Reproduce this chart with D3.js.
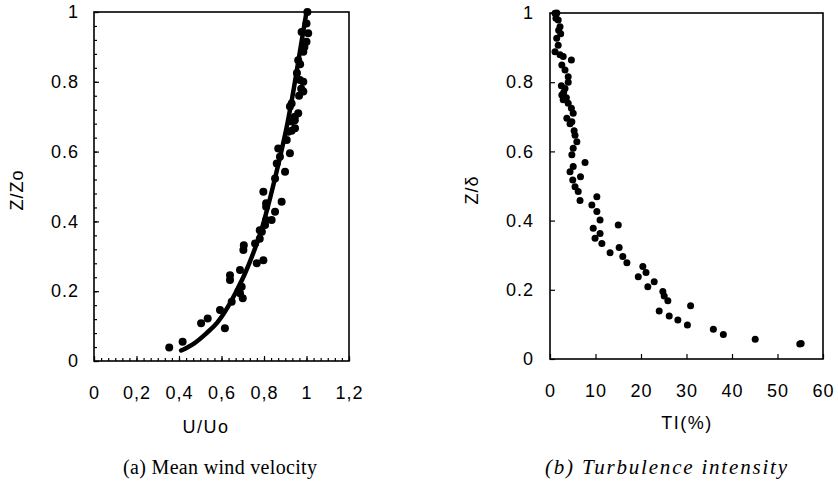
<!DOCTYPE html>
<html>
<head>
<meta charset="utf-8">
<script src="https://cdn.jsdelivr.net/npm/d3@7"></script>
<style>
  body { margin: 0; background: #fff; }
  svg { display: block; }
  .tick text { font-family: "Liberation Sans", Arial, sans-serif; font-size: 18px; fill: #000; letter-spacing: 1px; }
  .domain { display: none; }
  .tick line { stroke: #000; stroke-width: 1.2; }
</style>
</head>
<body>
<svg width="838" height="482"></svg>
<script>
// (a) mean wind velocity: measured points [U/Uo, Z/Zo]
var velU = [0.354, 0.417, 0.504, 0.535, 0.593, 0.616, 0.648, 0.687, 0.695, 0.64, 0.64, 0.687, 0.703, 0.705,
            0.766, 0.797, 0.758, 0.78, 0.79, 0.70, 0.68, 0.78, 0.81, 0.852, 0.836, 0.81, 0.883, 0.797,
            0.852, 0.899, 0.86, 0.875, 0.922, 0.867, 0.907, 0.914, 0.946, 0.93, 0.961, 0.922, 0.93,
            0.985, 0.969, 0.961, 0.985, 1.0, 0.977, 1.008, 1.0, 1.004, 0.97, 0.955, 0.985, 0.965, 0.99,
            0.945, 0.975, 0.93, 0.945, 0.81, 0.805];
var velZ = [0.039, 0.055, 0.108, 0.122, 0.146, 0.094, 0.17, 0.194, 0.213, 0.232, 0.246, 0.261, 0.318, 0.332,
            0.28, 0.289, 0.337, 0.35, 0.37, 0.18, 0.2, 0.375, 0.404, 0.428, 0.404, 0.442, 0.456, 0.485,
            0.523, 0.542, 0.566, 0.585, 0.595, 0.609, 0.633, 0.657, 0.667, 0.686, 0.71, 0.729, 0.738,
            0.772, 0.805, 0.862, 0.886, 0.915, 0.943, 0.939, 0.967, 1.0, 0.85, 0.825, 0.80, 0.76, 0.90,
            0.70, 0.78, 0.66, 0.69, 0.452, 0.39];
// fitted profile drawn as a thick line
var fitU = [0.41, 0.47, 0.53, 0.58, 0.63, 0.67, 0.71, 0.75, 0.79, 0.83, 0.87, 0.91, 0.94, 0.97, 1.0];
var fitZ = [0.03, 0.05, 0.08, 0.11, 0.155, 0.2, 0.25, 0.31, 0.38, 0.47, 0.57, 0.68, 0.78, 0.89, 1.0];

// (b) turbulence intensity: [TI %, Z/delta]
var tiX = [1.1, 1.5, 1.8, 2.2, 2.35, 1.47, 1.8, 1.1, 2.2, 2.9, 4.7, 2.6, 3.3, 4.0, 4.0, 3.3, 2.6, 2.9,
           4.0, 4.7, 5.1, 3.7, 4.8, 5.5, 5.9, 5.1, 4.8, 7.7, 5.1, 4.4, 6.7, 5.0, 5.5, 6.2, 6.6, 10.3,
           9.2, 10.3, 11.0, 15.0, 9.5, 11.0, 9.9, 11.4, 15.2, 13.2, 16.0, 16.9, 19.4, 20.4, 21.1,
           21.5, 22.9, 24.8, 25.1, 25.9, 24.0, 26.2, 28.1, 30.2, 30.9, 35.9, 38.1, 45.1, 54.9, 55.2,
           1.3, 1.9, 2.5, 3.0, 3.6, 4.4, 5.3];
var tiZ = [0.999, 1.0, 0.98, 0.96, 0.94, 0.927, 0.907, 0.888, 0.879, 0.874, 0.864, 0.85, 0.835, 0.816,
           0.80, 0.782, 0.763, 0.749, 0.739, 0.725, 0.71, 0.696, 0.686, 0.647, 0.628, 0.609, 0.59,
           0.568, 0.556, 0.541, 0.527, 0.517, 0.498, 0.484, 0.458, 0.469, 0.445, 0.426, 0.402, 0.387,
           0.378, 0.363, 0.349, 0.334, 0.322, 0.307, 0.296, 0.278, 0.238, 0.267, 0.25, 0.209, 0.223,
           0.195, 0.182, 0.168, 0.139, 0.124, 0.113, 0.098, 0.154, 0.086, 0.071, 0.057, 0.043, 0.045,
           0.985, 0.95, 0.79, 0.77, 0.755, 0.68, 0.66];

var yTicks = [0, 0.2, 0.4, 0.6, 0.8, 1];
var velTicks = [0, 0.2, 0.4, 0.6, 0.8, 1, 1.2];
var tiTicks = [0, 10, 20, 30, 40, 50, 60];

var svg = d3.select("svg");
var font = "'Liberation Sans', Arial, sans-serif";
var serif = "'Liberation Serif', 'Times New Roman', serif";

function yFmt(d) { return d === 0 || d === 1 ? String(d) : d.toFixed(1); }

// ---------- panel (a)
var xa = d3.scaleLinear().domain([0, 1.2]).range([94, 349]);
var ya = d3.scaleLinear().domain([0, 1]).range([361, 12]);

var ga = svg.append("g");
ga.append("g").attr("transform", "translate(94,0)")
  .call(d3.axisLeft(ya).tickValues(d3.range(0, 1.001, 0.04)).tickSize(-3).tickFormat(""));
ga.append("g").attr("transform", "translate(94,0)")
  .call(d3.axisLeft(ya).tickValues(yTicks).tickSize(-5).tickPadding(15).tickFormat(yFmt));
ga.append("g").attr("transform", "translate(0,361)")
  .call(d3.axisBottom(xa).tickValues(d3.range(0, 1.2001, 0.2 / 6)).tickSize(-3).tickFormat(""));
ga.append("g").attr("transform", "translate(0,361)")
  .call(d3.axisBottom(xa).tickValues(velTicks).tickSize(-5).tickPadding(25)
    .tickFormat(function (d) { return d === 0 || d === 1 ? String(d) : d.toFixed(1).replace(".", ","); }));
ga.append("rect").attr("x", 94).attr("y", 12).attr("width", 255).attr("height", 349)
  .attr("fill", "none").attr("stroke", "#000").attr("stroke-width", 1.6);

var line = d3.line()
  .x(function (d, i) { return xa(fitU[i]); })
  .y(function (d, i) { return ya(fitZ[i]); })
  .curve(d3.curveMonotoneX);
ga.append("path").attr("d", line(fitU)).attr("fill", "none")
  .attr("stroke", "#000").attr("stroke-width", 4.5).attr("stroke-linecap", "round");

ga.selectAll(".dotA").data(velU).enter().append("circle")
  .attr("class", "dotA")
  .attr("cx", function (d) { return xa(d); })
  .attr("cy", function (d, i) { return ya(velZ[i]); })
  .attr("r", 4).attr("fill", "#000");

ga.append("text").attr("transform", "translate(23,190) rotate(-90)")
  .attr("text-anchor", "middle").style("font-family", font).style("font-size", "18px")
  .style("letter-spacing", "1px").text("Z/Zo");
ga.append("text").attr("x", 206).attr("y", 433)
  .attr("text-anchor", "middle").style("font-family", font).style("font-size", "18px")
  .style("letter-spacing", "1.5px").text("U/Uo");
ga.append("text").attr("x", 123).attr("y", 474)
  .attr("textLength", 194).attr("lengthAdjust", "spacing")
  .style("font-family", serif).style("font-size", "20px")
  .text("(a) Mean wind velocity");

// ---------- panel (b)
var xb = d3.scaleLinear().domain([0, 60]).range([550, 823]);
var yb = d3.scaleLinear().domain([0, 1]).range([359, 13]);

var gb = svg.append("g");
gb.append("g").attr("transform", "translate(550,0)")
  .call(d3.axisLeft(yb).tickValues(yTicks).tickSize(-5).tickPadding(16).tickFormat(yFmt));
gb.append("g").attr("transform", "translate(0,359)")
  .call(d3.axisBottom(xb).tickValues(tiTicks).tickSize(-5).tickPadding(25));
gb.append("rect").attr("x", 550).attr("y", 13).attr("width", 273).attr("height", 346)
  .attr("fill", "none").attr("stroke", "#000").attr("stroke-width", 1.6);

gb.selectAll(".dotB").data(tiX).enter().append("circle")
  .attr("class", "dotB")
  .attr("cx", function (d) { return xb(d); })
  .attr("cy", function (d, i) { return yb(tiZ[i]); })
  .attr("r", 3.5).attr("fill", "#000");

gb.append("text").attr("transform", "translate(478,190) rotate(-90)")
  .attr("text-anchor", "middle").style("font-family", font).style("font-size", "18px")
  .style("letter-spacing", "1px").text("Z/δ");
gb.append("text").attr("x", 687).attr("y", 429)
  .attr("text-anchor", "middle").style("font-family", font).style("font-size", "18px")
  .style("letter-spacing", "1.5px").text("TI(%)");
gb.append("text").attr("x", 545).attr("y", 474)
  .attr("textLength", 242).attr("lengthAdjust", "spacing")
  .style("font-family", serif).style("font-size", "21px")
  .style("font-style", "italic").text("(b) Turbulence intensity");
</script>
</body>
</html>
